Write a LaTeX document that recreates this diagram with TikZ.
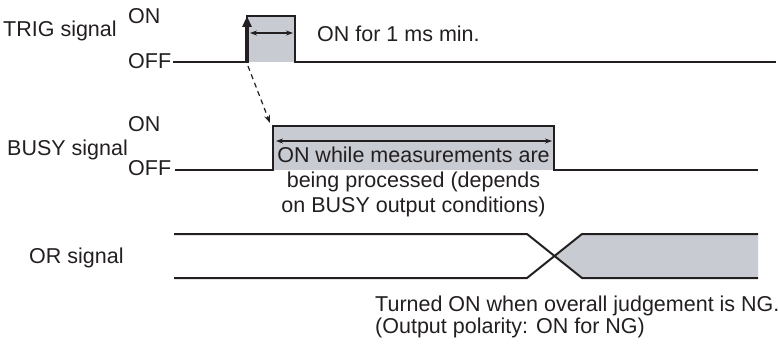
\documentclass[tikz,border=0pt]{standalone}
\usepackage{fontspec}
\setmainfont{Liberation Sans}
\usetikzlibrary{arrows.meta}
\definecolor{ink}{RGB}{35,31,32}
\definecolor{boxgray}{RGB}{200,203,210}
\begin{document}
\begin{tikzpicture}[x=1pt,y=-1pt,
  lbl/.style={inner sep=0pt,anchor=base west,text=ink,font=\fontsize{21.5}{25}\selectfont},
  sig/.style={draw=ink,line width=2pt,line join=miter},
  dim/.style={draw=ink,line width=1.2pt,{Stealth[length=7pt,width=5pt]}-{Stealth[length=7pt,width=5pt]}},
  fillg/.style={fill=boxgray,draw=none}]
\useasboundingbox (0,0) rectangle (778,347);
% TRIG
\fill[fillg] (247,16) rectangle (295,62);
\draw[sig] (173,62) -- (247,62) -- (247,16) -- (295,16) -- (295,62) -- (776,62);
\draw[draw=ink,line width=3.2pt,-{Triangle[length=11pt,width=9pt]}] (247,63) -- (247,16);
\draw[dim] (250,33) -- (293,33);
\node[lbl] (trig) at (3,37) {TRIG signal};
\node[lbl] (trigon) at (128,24) {ON};
\node[lbl] (trigoff) at (128,69) {OFF};
\node[lbl] (trignote) at (317,42) {ON for 1 ms min.};
% dashed link
\coordinate (dstart) at (248,66);
\coordinate (dend) at (270,123);
\draw[draw=ink,line width=1.2pt,dash pattern=on 5pt off 4pt,-{Stealth[length=8pt,width=6pt]}] (dstart) -- (dend);
% BUSY
\fill[fillg] (273,126.5) rectangle (554,170.5);
\draw[sig] (175,170.5) -- (273,170.5) -- (273,126.5) -- (554,126.5) -- (554,170.5) -- (758,170.5);
\draw[dim] (276,141) -- (552,141);
\node[lbl] (busy) at (7,156) {BUSY signal};
\node[lbl] (busyon) at (128,132) {ON};
\node[lbl] (busyoff) at (128,176) {OFF};
\node[lbl,anchor=base,align=center] (busynote) at (413.5,213) {ON while measurements are\\being processed (depends\\on BUSY output conditions)};
% OR
\fill[fillg] (554.5,256) -- (582,234) -- (758,234) -- (758,278) -- (582,278) -- cycle;
\draw[sig] (174,234) -- (527,234) -- (582,278) -- (758,278);
\draw[sig] (174,278) -- (527,278) -- (582,234) -- (758,234);
\node[lbl] (orsig) at (29,263) {OR signal};
\node[lbl,align=left,font=\fontsize{21.5}{21.5}\selectfont] (ornote) at (375,333) {Turned ON when overall judgement is NG.\\(Output polarity: ON for NG)};
\end{tikzpicture}
\end{document}
